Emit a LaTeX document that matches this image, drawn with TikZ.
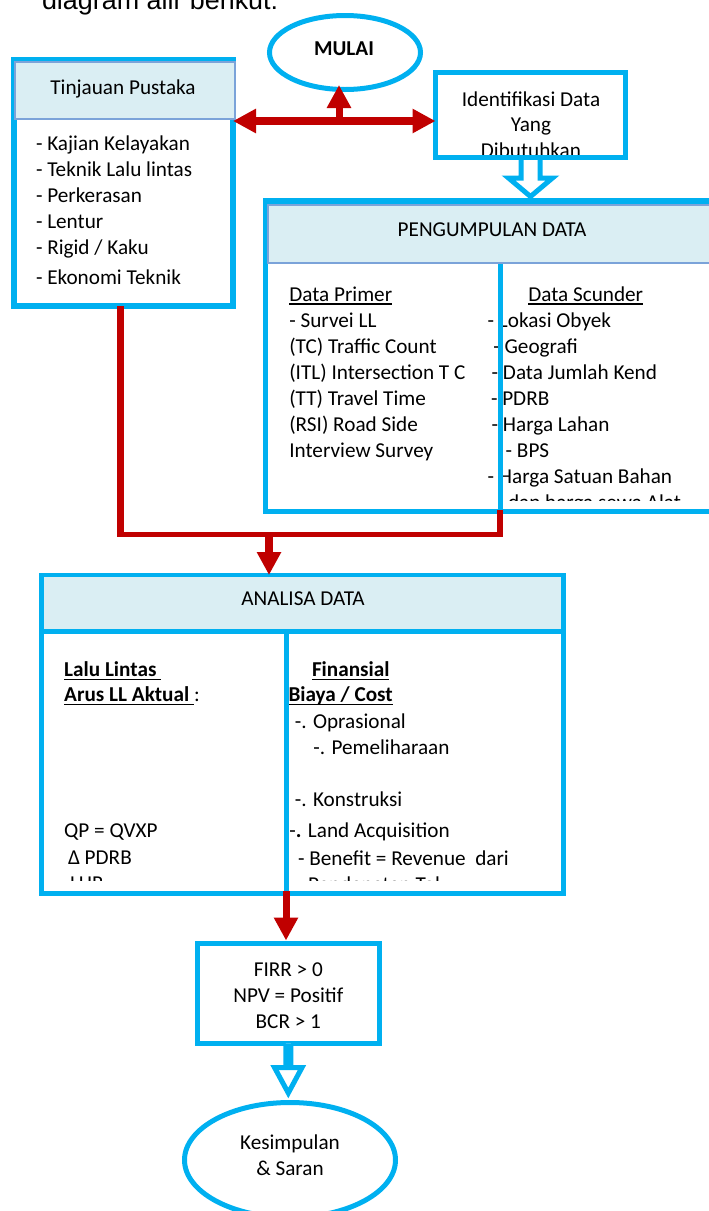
\documentclass[tikz,border=0pt]{standalone}
\usepackage{fontspec}
\setmainfont{Carlito}
\newfontfamily\introfont{Liberation Sans}
\usetikzlibrary{arrows.meta,shapes.geometric,calc}
\definecolor{cy}{HTML}{00B0F0}
\definecolor{hd}{HTML}{DAEEF3}
\definecolor{hb}{HTML}{7BA3D9}
\definecolor{rd}{HTML}{C00000}
\newcommand\ulx[1]{\setbox0\hbox{#1}\rlap{\rule[-3.5pt]{\wd0}{1.7pt}}\box0}
\begin{document}
\begin{tikzpicture}[x=1pt,y=-1pt,
  every node/.style={inner sep=0pt,outer sep=0pt},
  body/.style={font=\fontsize{21.2}{26}\selectfont},
  tl/.style={body,anchor=base west},
  tc/.style={body,anchor=base},
  cybox/.style={draw=cy,line width=5pt,rectangle},
  cyell/.style={draw=cy,line width=5pt,ellipse},
  hdr/.style={fill=hd,draw=hb,line width=1.5pt,rectangle},
  cyline/.style={draw=cy,line width=5pt},
  rline/.style={draw=rd,line width=#1},
  rtip/.style={-{Triangle[width=23pt,length=23pt]}},
  rtips/.style={{Triangle[width=23pt,length=23pt]}-{Triangle[width=23pt,length=23pt]}},
  hollow/.style={draw=cy,fill=white,line width=5pt,line join=miter}]
\useasboundingbox (0,0) rectangle (709,1211);
\clip (0,0) rectangle (709,1211);

% intro line (cut at top)
\node[anchor=base west,font=\introfont\fontsize{26.9}{30}\selectfont] (intro) at (42,9) {diagram alir berikut:};

% MULAI
\node[cyell,minimum width=151pt,minimum height=74pt] (mulai) at (345,52.5) {};
\node[anchor=base,font=\fontsize{21.2}{26}\selectfont\bfseries] (mulait) at (344,55) {MULAI};

% Tinjauan Pustaka
\node[cybox,line width=5.5pt,minimum width=219pt,minimum height=246.5pt] (tp) at (123.5,182.75) {};
\node[hdr,minimum width=220pt,minimum height=57pt] (tph) at (125,90.5) {};
\node[tc] (tpt) at (123,94) {Tinjauan Pustaka};
\node[tl] (tp1) at (36,150) {- Kajian Kelayakan};
\node[tl] (tp2) at (36,176) {- Teknik Lalu lintas};
\node[tl] (tp3) at (36,202) {- Perkerasan};
\node[tl] (tp4) at (36,228) {- Lentur};
\node[tl] (tp5) at (36,254) {- Rigid / Kaku};
\node[tl] (tp6) at (36,284) {- Ekonomi Teknik};

% Identifikasi
\draw[hollow] (521,157.5) -- (521,178) -- (508.5,178) -- (530.5,196.5) -- (552.5,178) -- (540,178) -- (540,157.5);
\begin{scope}
\clip (438,75) rectangle (623,155);
\node[tc] (id1) at (531,106.7) {Identifikasi Data};
\node[tc] (id2) at (531,131.7) {Yang};
\node[tc] (id3) at (531,157.7) {Dibutuhkan};
\end{scope}
\node[cybox,minimum width=190pt,minimum height=85pt] (iden) at (530.5,115) {};

% Pengumpulan Data
\node[cybox,line width=5.5pt,minimum width=456.5pt,minimum height=310.5pt] (peng) at (493.75,356.25) {};
\node[hdr,minimum width=452pt,minimum height=58pt] (pengh) at (494,234) {};
\node[tc] (pengt) at (492,236) {PENGUMPULAN DATA};
\begin{scope}
\clip (268,264) rectangle (709,500.5);
\node[tl] (pa0) at (289.3,301.5) {\ulx{Data Primer}};
\node[tl] (pa1) at (289.3,327.5) {- Survei LL};
\node[tl] (pa2) at (289.3,353.5) {(TC) Traffic Count};
\node[tl] (pa3) at (289.3,379.5) {(ITL) Intersection T C};
\node[tl] (pa4) at (289.3,405.5) {(TT) Travel Time};
\node[tl] (pa5) at (289.3,431.5) {(RSI) Road Side};
\node[tl] (pa6) at (289.3,457.5) {Interview Survey};
\node[tl] (pb0) at (528.3,301.5) {\ulx{Data Scunder}};
\node[tl] (pb1) at (487.7,327.5) {- Lokasi Obyek};
\node[tl] (pb2) at (493.3,353.5) {- Geografi};
\node[tl] (pb3) at (491.7,379.5) {- Data Jumlah Kend};
\node[tl] (pb4) at (491,405.5) {- PDRB};
\node[tl] (pb5) at (491.7,431.5) {- Harga Lahan};
\node[tl] (pb6) at (505.7,457.5) {- BPS};
\node[tl] (pb7) at (487.7,483.5) {- Harga Satuan Bahan};
\node[tl] (pb8) at (508,509.5) {dan harga sewa Alat};
\end{scope}
\coordinate (pdt) at (500,264);
\coordinate (pdb) at (500,511.5);
\draw[cyline] (pdt) -- (pdb);

% Analisa Data
\node[cybox,line width=4.5pt,minimum width=522pt,minimum height=318.5pt] (anal) at (302.5,734.25) {};
\node[fill=hd,minimum width=517.5pt,minimum height=52pt] (analh) at (302.5,603) {};
\draw[cyline] (anal.west |- 0,631.5) -- (anal.east |- 0,631.5);
\node[tc] (analt) at (303,605) {ANALISA DATA};
\begin{scope}
\clip (44,634) rectangle (561,880);
\node[tl,font=\fontsize{21.2}{26}\selectfont\bfseries] (al1) at (64.2,676.7) {\ulx{Lalu Lintas\ }};
\node[tl] (al2) at (64.2,701.7) {\textbf{\ulx{Arus LL Aktual\ }}:};
\node[tl] (al3) at (64.2,837.7) {QP = QVXP};
\node[tl] (al4) at (68,864.5) {Δ PDRB};
\node[tl] (al5) at (70,890.5) {LHR};
\node[tl,font=\fontsize{21.2}{26}\selectfont\bfseries] (ar1) at (312,676.7) {\ulx{Finansial}};
\node[tl,font=\fontsize{21.2}{26}\selectfont\bfseries] (ar2) at (288.5,701.7) {\ulx{Biaya / Cost}};
\node[tl] (ar3) at (294.8,728.3) {-. Oprasional};
\node[tl] (ar4) at (313.3,754.3) {-. Pemeliharaan};
\node[tl] (ar5) at (294.8,806.7) {-. Konstruksi};
\node[tl] (ar6) at (289.4,837.7) {-\textbf{.} Land Acquisition};
\node[tl] (ar7) at (298,865) {- Benefit = Revenue\ \ dari};
\node[tl] (ar8) at (308,891) {Pendapatan Tol};
\end{scope}
\coordinate (adt) at (286,631.5);
\coordinate (adb) at (286,893.5);
\draw[cyline] (adt) -- (adb);

% FIRR
\node[cybox,minimum width=182pt,minimum height=100pt] (firr) at (288.5,993.5) {};
\node[tc] (f1) at (288.3,976.5) {FIRR > 0};
\node[tc] (f2) at (288.3,1002.5) {NPV = Positif};
\node[tc] (f3) at (288.3,1028.5) {BCR > 1};

% hollow arrow to Kesimpulan
\draw[hollow] (285.8,1043.5) -- (285.8,1067.5) -- (274.5,1067.5) -- (288.3,1093) -- (302,1067.5) -- (290.8,1067.5) -- (290.8,1043.5);

% Kesimpulan
\node[cyell,minimum width=211pt,minimum height=115pt] (kes) at (290,1160) {};
\node[tc] (k1) at (290,1149.5) {Kesimpulan};
\node[tc] (k2) at (290,1175) {\& Saran};

% red connectors
\coordinate (dm) at (339,121);
\coordinate (mu) at (339,85);
\draw[rline=7.7pt,rtips] (tp.east |- dm) -- (iden.west |- dm);
\draw[rline=7pt,rtip] (dm) -- (mu);
\coordinate (jl) at (120.5,534.2);
\coordinate (jr) at (500,534.2);
\coordinate (jm) at (269,534.2);
\draw[rline=7.5pt] (tp.south -| jl) -- ($(jl)+(0,2.5)$);
\draw[rline=5pt] ($(jl)+(-3.5,0)$) -- ($(jr)+(2.6,0)$);
\draw[rline=5.3pt] ($(pdb)+(0,-2)$) -- ($(jr)+(0,2.5)$);
\draw[rline=8pt,rtip] (jm) -- (anal.north -| jm);
\draw[rline=7pt,rtip] ($(adb)+(0,-3)$) -- ($(firr.north -| adb)+(0,-3)$);
\end{tikzpicture}
\end{document}
